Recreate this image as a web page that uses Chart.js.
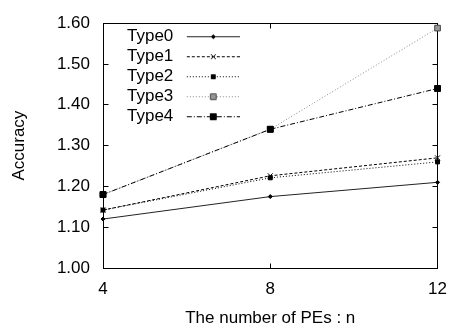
<!DOCTYPE html>
<html><head><meta charset="utf-8">
<script src="https://cdn.jsdelivr.net/npm/chart.js"></script>
<style>html,body{margin:0;padding:0;background:#fff;}</style>
</head><body>
<canvas id="c" width="458" height="332"></canvas>
<script>
// ---- data ----
const peCounts = [4, 8, 12];
const seriesNames = ['Type0', 'Type1', 'Type2', 'Type3', 'Type4'];
const type0 = [1.12, 1.175, 1.21];
const type1 = [1.142, 1.226, 1.27];
const type2 = [1.142, 1.221, 1.26];
const type3 = [1.18, 1.34, 1.588];
const type4 = [1.18, 1.34, 1.44];
const xTicks = [4, 8, 12];
const yTicks = [1.0, 1.1, 1.2, 1.3, 1.4, 1.5, 1.6];
const xTitle = 'The number of PEs : n';
const yTitle = 'Accuracy';

// ---- styles ----
const FONT = { family: "'Liberation Sans', Arial, Helvetica, sans-serif", size: 17 };
const styles = [
  { color: '#222', dash: [], pointStyle: 'rectRot', radius: 2, bg: '#000', border: '#000' },
  { color: '#000', dash: [3, 2], pointStyle: 'crossRot', radius: 3.5, bg: '#000', border: '#000' },
  { color: '#000', dash: [1, 2], pointStyle: 'rect', radius: 2.8, bg: '#000', border: '#000' },
  { color: '#888', dash: [1, 2], pointStyle: 'rect', radius: 4, bg: '#999', border: '#444' },
  { color: '#000', dash: [5, 2, 1, 2], pointStyle: 'rect', radius: 4.2, bg: '#000', border: '#000' }
];
const allSeries = [type0, type1, type2, type3, type4];

// legend sample images (line + marker)
function makeSample(st) {
  const cv = document.createElement('canvas');
  cv.width = 58; cv.height = 12;
  const c = cv.getContext('2d');
  c.strokeStyle = st.color; c.lineWidth = 1; c.setLineDash(st.dash);
  c.beginPath(); c.moveTo(5, 6.5); c.lineTo(58, 6.5); c.stroke();
  c.setLineDash([]);
  c.fillStyle = st.bg; c.strokeStyle = st.border;
  if (Chart.helpers && Chart.helpers.drawPoint) {
    Chart.helpers.drawPoint(c, { pointStyle: st.pointStyle, radius: st.radius, borderWidth: 1, rotation: 0 }, 31.5, 6.5);
  }
  return cv;
}
const samples = styles.map(makeSample);

const datasets = seriesNames.map((name, i) => ({
  label: name,
  data: peCounts.map((x, j) => ({ x: x, y: allSeries[i][j] })),
  borderColor: styles[i].color,
  borderWidth: 1,
  borderDash: styles[i].dash,
  pointStyle: styles[i].pointStyle,
  pointRadius: styles[i].radius,
  pointBackgroundColor: styles[i].bg,
  pointBorderColor: styles[i].border,
  pointBorderWidth: 1,
  fill: false,
  tension: 0,
  clip: false,
  order: seriesNames.length - 1 - i
}));

const framePlugin = {
  id: 'frame',
  afterLayout(chart) {
    const lg = chart.legend;
    if (lg) { lg.left = chart.chartArea.left + 14; lg.top = chart.chartArea.top + 1.5; }
  },
  beforeDatasetsDraw(chart) {
    const { ctx, chartArea, scales } = chart;
    const a = v => Math.round(v - 0.5) + 0.5;
    const L = a(chartArea.left), R = a(chartArea.right), T = a(chartArea.top), B = a(chartArea.bottom);
    const tl = 5;
    ctx.save();
    ctx.strokeStyle = '#000'; ctx.lineWidth = 1; ctx.setLineDash([]);
    ctx.beginPath();
    scales.y.ticks.forEach(t => {
      const py = a(scales.y.getPixelForValue(t.value));
      ctx.moveTo(L, py); ctx.lineTo(L + tl, py);
      ctx.moveTo(R, py); ctx.lineTo(R - tl, py);
    });
    scales.x.ticks.forEach(t => {
      const px = a(scales.x.getPixelForValue(t.value));
      ctx.moveTo(px, B); ctx.lineTo(px, B - tl);
      ctx.moveTo(px, T); ctx.lineTo(px, T + tl);
    });
    ctx.stroke();
    ctx.strokeRect(L, T, R - L, B - T);
    ctx.restore();
  }
};

new Chart(document.getElementById('c'), {
  type: 'line',
  data: { datasets },
  options: {
    responsive: false,
    animation: false,
    devicePixelRatio: 1,
    layout: { padding: { left: 0, right: 11, top: 16, bottom: 0 } },
    plugins: {
      tooltip: { enabled: false },
      legend: {
        position: 'chartArea',
        align: 'start',
        rtl: true,
        labels: {
          usePointStyle: true,
          pointStyleWidth: 58,
          padding: 3,
          color: '#000',
          font: FONT,
          sort: (a, b) => a.datasetIndex - b.datasetIndex,
          generateLabels(chart) {
            const items = Chart.defaults.plugins.legend.labels.generateLabels(chart);
            items.forEach(it => { it.pointStyle = samples[it.datasetIndex]; it.lineWidth = 0; });
            return items;
          }
        }
      }
    },
    scales: {
      x: {
        type: 'linear',
        min: peCounts[0],
        max: peCounts[peCounts.length - 1],
        afterBuildTicks: s => { s.ticks = xTicks.map(v => ({ value: v })); },
        grid: { display: false, drawTicks: false },
        border: { display: false },
        ticks: { color: '#000', font: FONT, padding: 11, maxRotation: 0 },
        title: { display: true, text: xTitle, color: '#000', font: FONT, padding: { top: 3, bottom: 3 } },
        afterFit: s => { s.height = 64; }
      },
      y: {
        type: 'linear',
        min: yTicks[0],
        max: yTicks[yTicks.length - 1],
        afterBuildTicks: s => { s.ticks = yTicks.map(v => ({ value: v })); },
        grid: { display: false, drawTicks: false },
        border: { display: false },
        ticks: { color: '#000', font: FONT, padding: 13, callback: v => Number(v).toFixed(2) },
        title: { display: true, text: yTitle, color: '#000', font: FONT, padding: { top: 9, bottom: 0 } },
        afterFit: s => { s.width = 103; }
      }
    }
  },
  plugins: [framePlugin]
});
</script>
</body></html>
